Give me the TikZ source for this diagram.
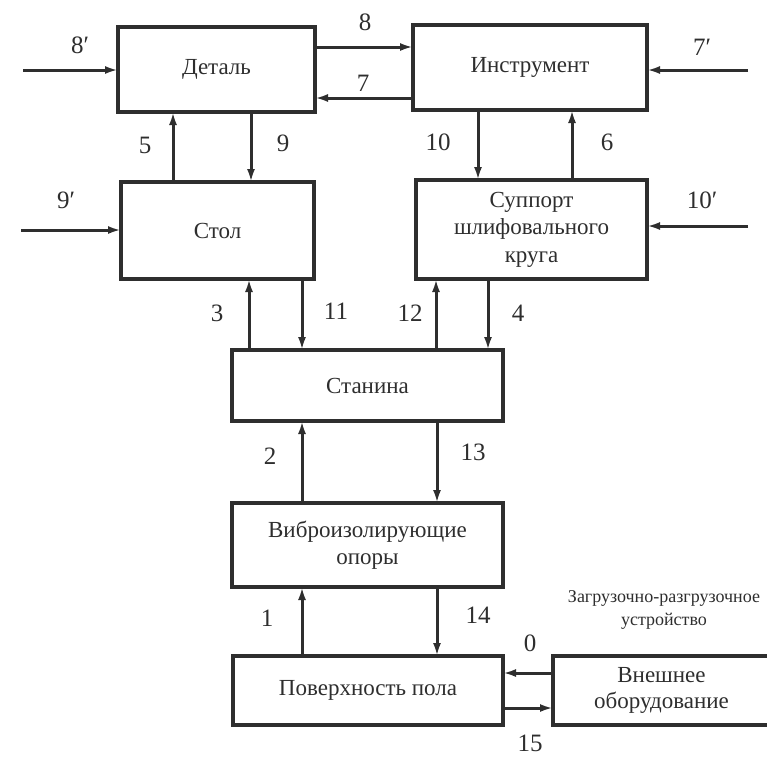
\documentclass[tikz,border=0pt]{standalone}
\usepackage{fontspec}
\setmainfont{Liberation Serif}
\usetikzlibrary{arrows.meta}
\definecolor{ink}{HTML}{2E2E2E}
\tikzset{
  blk/.style={draw=ink, line width=3.1pt, fill=white, text=ink, align=center,
    inner sep=0pt, outer sep=0pt, font=\fontsize{23}{27.5}\selectfont},
  arr/.style={draw=ink, line width=3pt, -{Latex[length=13pt,width=8pt]}},
  num/.style={text=ink, inner sep=0pt, font=\fontsize{25}{27}\selectfont},
  note/.style={text=ink, inner sep=0pt, font=\fontsize{18}{23}\selectfont}
}
\begin{document}
\begin{tikzpicture}[x=1pt,y=-1pt]
\clip (0,0) rectangle (767,756);
\fill[white] (0,0) rectangle (767,756);
% boxes
\node[blk, minimum width=197pt, minimum height=85pt] (det) at (216.5,69.5) {Деталь};
\node[blk, minimum width=234pt, minimum height=85pt] (ins) at (530,67.5) {Инструмент};
\node[blk, minimum width=193pt, minimum height=97pt] (stol) at (217.5,230.5) {Стол};
\node[blk, minimum width=231pt, minimum height=99pt] (sup) at (531.5,229.5) {Суппорт\\шлифовального\\круга};
\node[blk, minimum width=271pt, minimum height=71pt] (stan) at (367.5,385.5) {Станина};
\node[blk, minimum width=271pt, minimum height=84pt] (vib) at (367.5,545) {Виброизолирующие\\опоры};
\node[blk, minimum width=270pt, minimum height=69pt] (pov) at (368,690.5) {Поверхность пола};
\node[blk, minimum width=217pt, minimum height=69pt, font=\fontsize{23}{26}\selectfont] (ext) at (661.5,690.5) {Внешнее\\оборудование};
% helper coordinates
\coordinate (s8p) at (23,70);
\coordinate (s9p) at (21,230);
\coordinate (s7p) at (748,70);
\coordinate (s10p) at (748,226);
\coordinate (y8) at (0,47);
\coordinate (y7) at (0,98);
\coordinate (y0) at (0,673);
\coordinate (y15) at (0,708);
\coordinate (x5) at (173,0);
\coordinate (x9) at (251,0);
\coordinate (x10) at (478,0);
\coordinate (x6) at (572,0);
\coordinate (x3) at (249,0);
\coordinate (x11) at (302,0);
\coordinate (x12) at (436,0);
\coordinate (x4) at (488,0);
\coordinate (x2) at (302,0);
\coordinate (x13) at (437,0);
% horizontal arrows
\draw[arr] (s8p) -- (s8p -| det.west);
\draw[arr] (s9p) -- (s9p -| stol.west);
\draw[arr] (s7p) -- (s7p -| ins.east);
\draw[arr] (s10p) -- (s10p -| sup.east);
\draw[arr] (det.east |- y8) -- (ins.west |- y8);
\draw[arr] (ins.west |- y7) -- (det.east |- y7);
\draw[arr] (ext.west |- y0) -- (pov.east |- y0);
\draw[arr] (pov.east |- y15) -- (ext.west |- y15);
% vertical arrows
\draw[arr] (stol.north -| x5) -- (det.south -| x5);
\draw[arr] (det.south -| x9) -- (stol.north -| x9);
\draw[arr] (ins.south -| x10) -- (sup.north -| x10);
\draw[arr] (sup.north -| x6) -- (ins.south -| x6);
\draw[arr] (stan.north -| x3) -- (stol.south -| x3);
\draw[arr] (stol.south -| x11) -- (stan.north -| x11);
\draw[arr] (stan.north -| x12) -- (sup.south -| x12);
\draw[arr] (sup.south -| x4) -- (stan.north -| x4);
\draw[arr] (vib.north -| x2) -- (stan.south -| x2);
\draw[arr] (stan.south -| x13) -- (vib.north -| x13);
\draw[arr] (pov.north -| x2) -- (vib.south -| x2);
\draw[arr] (vib.south -| x13) -- (pov.north -| x13);
% labels
\node[num] (l8p) at (80,45) {8′};
\node[num] (l9p) at (66,200) {9′};
\node[num] (l7p) at (702,47) {7′};
\node[num] (l10p) at (702,200) {10′};
\node[num] (l8) at (365,22) {8};
\node[num] (l7) at (363,83) {7};
\node[num] (l5) at (145,145) {5};
\node[num] (l9) at (283,143) {9};
\node[num] (l10) at (438,142) {10};
\node[num] (l6) at (607,142) {6};
\node[num] (l3) at (217,313) {3};
\node[num] (l11) at (336,311) {11};
\node[num] (l12) at (410,313) {12};
\node[num] (l4) at (518,313) {4};
\node[num] (l2) at (270,456) {2};
\node[num] (l13) at (473,452) {13};
\node[num] (l1) at (267,618) {1};
\node[num] (l14) at (478,615) {14};
\node[num] (l0) at (530,643) {0};
\node[num] (l15) at (530,743) {15};
\node[note, align=center] (lz) at (664,610) {Загрузочно-разгрузочное\\устройство};
\end{tikzpicture}
\end{document}
